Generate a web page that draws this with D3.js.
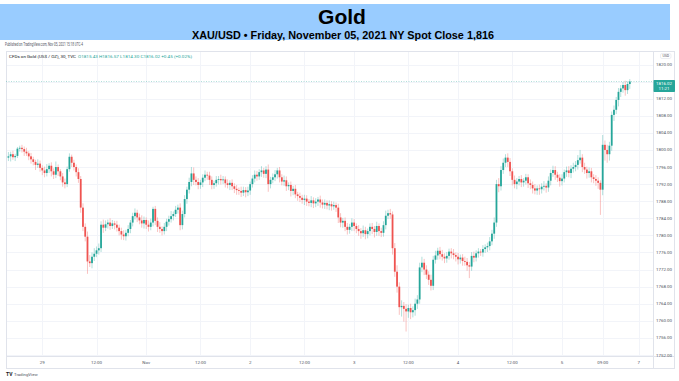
<!DOCTYPE html>
<html>
<head>
<meta charset="utf-8">
<script src="https://cdn.jsdelivr.net/npm/d3@7"></script>
<style>
  body { margin: 0; background: #fff; }
  svg { display: block; font-family: Roboto, "Noto Sans", sans-serif; }
</style>
</head>
<body>
<svg id="chart"></svg>
<script>
const width = 679;
const height = 381;

// 30 minute bars, Oct 28 15:30 -> Nov 05 15:00 (NY time, session gaps removed)
const firstOpen = 1798.2;
const closes = [
  1798.5, 1799.0, 1798.3, 1798.6, 1800.3, 1800.5, 1800.2, 1799.6, 1799.2, 1798.5,
  1797.8, 1797.2, 1796.5, 1796.8, 1795.8, 1795.2, 1794.6, 1795.5, 1796.3, 1795.0,
  1794.2, 1796.0, 1795.0, 1793.8, 1792.4, 1792.0, 1795.5, 1798.4, 1797.0, 1796.0,
  1794.8, 1793.2, 1786.5, 1782.0, 1779.7, 1773.9, 1773.5, 1775.0, 1775.7, 1776.5,
  1777.0, 1782.5, 1781.8, 1782.6, 1783.0, 1782.2, 1782.8, 1782.5, 1781.8, 1781.0,
  1780.2, 1779.8, 1780.6, 1781.5, 1783.0, 1784.5, 1785.3, 1784.2, 1783.5, 1782.8,
  1783.6, 1782.5, 1782.0, 1783.0, 1786.2, 1783.4, 1782.0, 1781.5, 1781.0, 1782.0,
  1783.2, 1783.8, 1784.5, 1785.0, 1786.0, 1786.5, 1782.4, 1785.0, 1788.5, 1790.7,
  1792.5, 1794.5, 1793.0, 1792.5, 1791.8, 1792.4, 1793.5, 1794.2, 1794.0, 1793.0,
  1791.8, 1792.2, 1793.0, 1793.2, 1792.9, 1793.1, 1792.2, 1791.8, 1792.3, 1791.5,
  1790.9, 1790.6, 1790.4, 1790.0, 1790.6, 1790.1, 1790.5, 1792.0, 1793.3, 1794.2,
  1793.8, 1794.8, 1795.2, 1794.4, 1795.4, 1792.0, 1793.0, 1793.6, 1794.3, 1795.2,
  1793.6, 1792.6, 1792.9, 1791.5, 1791.8, 1790.4, 1790.9, 1789.6, 1789.2, 1788.8,
  1788.3, 1788.6, 1787.9, 1787.6, 1788.2, 1787.5, 1787.9, 1788.4, 1787.7, 1787.2,
  1787.6, 1787.0, 1787.3, 1786.8, 1787.1, 1786.5, 1784.2, 1783.0, 1783.4, 1782.0,
  1781.3, 1782.0, 1783.0, 1782.2, 1781.5, 1781.0, 1780.5, 1781.2, 1780.3, 1781.0,
  1782.0, 1781.5, 1780.8, 1782.2, 1781.0, 1780.6, 1782.4, 1784.6, 1785.2, 1784.9,
  1777.0, 1771.5, 1768.0, 1763.2, 1763.5, 1762.8, 1762.2, 1763.0, 1762.0, 1762.5,
  1764.0, 1765.0, 1772.5, 1773.6, 1772.0, 1770.8, 1769.6, 1768.2, 1774.3, 1775.3,
  1776.4, 1775.6, 1775.0, 1774.6, 1775.2, 1776.2, 1775.8, 1775.4, 1775.0, 1774.4,
  1774.8, 1774.0, 1773.8, 1773.0, 1772.7, 1775.2, 1774.8, 1775.8, 1776.2, 1776.0,
  1776.8, 1777.2, 1777.5, 1778.6, 1780.4, 1783.0, 1792.0, 1791.5, 1795.3, 1797.0,
  1798.2, 1797.2, 1795.0, 1793.0, 1792.0, 1792.6, 1793.2, 1792.4, 1792.8, 1793.6,
  1792.2, 1791.8, 1791.0, 1790.5, 1791.0, 1790.8, 1791.4, 1791.6, 1791.2, 1792.8,
  1794.6, 1795.3, 1794.2, 1793.5, 1792.7, 1793.3, 1794.8, 1795.2, 1794.6, 1795.6,
  1796.0, 1796.5, 1797.6, 1798.2, 1796.0, 1795.4, 1794.6, 1795.0, 1793.6, 1793.2,
  1792.8, 1792.3, 1790.7, 1801.2, 1800.0, 1799.0, 1801.0, 1808.2, 1809.4, 1811.7,
  1813.6, 1814.4, 1815.2, 1814.0, 1815.43, 1816.02
];
// upper / lower shadow lengths (USD) beyond the body
const wickUp = [
  1.0,0.6,0.8,0.5,0.4,0.5,0.7,0.6,0.9,0.5, 0.8,0.6,0.5,1.0,0.7,0.6,0.9,1.2,0.6,0.8,
  0.7,1.3,0.6,0.5,0.8,0.9,0.6,0.8,0.5,0.7, 0.6,0.9,0.7,1.0,0.8,1.2,1.5,1.0,1.3,0.9,
  1.1,0.8,1.2,0.9,0.7,1.0,0.8,0.6,0.9,0.7, 0.8,1.0,0.7,0.9,0.6,0.8,1.0,0.7,0.9,1.2,
  0.8,0.6,1.0,0.9,0.5,0.7,0.8,1.1,0.6,0.9, 0.7,0.8,1.2,0.6,0.9,0.7,1.0,0.8,0.9,0.7,
  1.0,1.5,1.4,0.8,0.9,0.6,0.8,1.0,0.7,0.9, 0.8,0.6,0.9,0.7,1.0,0.8,0.7,0.9,0.6,0.8,
  0.7,0.9,0.6,1.0,0.8,0.7,0.9,0.6,0.8,1.0, 0.9,0.7,1.0,0.6,0.8,1.2,0.7,0.9,1.0,0.6,
  0.8,0.7,1.1,0.9,0.6,0.8,0.7,0.9,0.6,0.8, 0.7,0.9,0.8,0.6,1.0,0.7,0.8,0.6,0.9,0.7,
  0.8,0.6,0.9,0.7,0.8,0.6,0.9,1.0,0.7,0.8, 0.9,0.7,1.0,0.8,0.6,0.9,0.7,1.1,0.8,0.6,
  0.8,0.9,0.7,1.0,0.6,0.8,0.9,1.2,0.8,1.0, 0.7,1.2,1.5,1.0,1.3,0.9,1.1,0.8,1.0,0.9,
  1.2,1.0,1.1,1.4,0.9,1.0,0.8,1.2,0.9,1.1, 0.7,0.9,1.0,0.8,0.9,0.7,0.8,1.0,0.6,0.9,
  0.7,0.8,1.0,0.9,0.8,0.9,1.0,0.7,0.8,0.6, 0.9,0.7,0.8,1.0,0.9,1.2,1.0,1.4,0.9,1.0,
  0.8,1.0,0.9,0.7,1.0,0.8,0.7,0.9,0.6,0.8, 0.7,0.9,0.8,1.0,0.7,0.9,0.8,1.1,0.6,1.0,
  0.8,1.0,0.9,0.7,0.8,1.0,0.6,0.9,1.0,0.8, 1.0,0.9,1.2,1.8,0.8,1.0,0.7,0.9,0.8,0.7,
  0.9,0.8,0.6,2.3,1.0,1.2,0.9,0.8,1.0,0.7, 0.9,0.8,0.7,1.0,0.6,0.55
];
const wickDown = [
  0.8,1.2,0.6,0.9,0.5,0.7,0.8,1.0,0.6,0.9, 1.0,0.8,1.2,0.7,0.9,1.1,1.0,0.8,0.9,1.2,
  1.0,0.8,1.1,0.9,1.0,1.0,0.7,0.6,1.0,0.8, 1.0,0.9,1.2,1.0,1.1,2.9,0.9,1.2,1.0,0.8,
  1.0,0.9,1.2,0.8,1.0,0.9,0.7,1.1,0.9,1.0, 1.2,0.9,1.0,0.8,1.0,0.9,0.8,1.1,0.9,1.0,
  1.2,1.0,1.1,0.8,0.9,1.0,1.2,0.9,1.0,0.8, 1.0,0.9,0.8,1.0,0.7,0.9,1.2,1.0,0.8,1.1,
  0.9,1.0,1.2,0.8,1.0,0.9,1.1,0.8,1.0,1.2, 1.0,0.9,0.8,1.1,1.0,0.9,1.0,0.8,1.2,0.9,
  1.0,1.1,0.9,1.0,0.8,1.2,0.9,1.0,0.8,0.9, 1.0,0.8,1.1,0.9,1.0,1.8,1.0,0.8,0.9,1.0,
  1.2,0.9,1.0,1.1,0.9,1.3,1.0,0.9,1.1,1.0, 0.9,1.2,1.0,0.8,1.0,1.1,0.9,1.0,1.2,0.9,
  1.0,0.9,1.1,1.0,0.8,1.0,1.3,1.1,1.2,1.0, 1.1,0.9,1.0,1.2,1.0,1.1,1.3,0.9,1.2,1.0,
  1.0,1.2,1.3,0.9,1.1,1.0,0.9,1.0,0.8,1.0, 1.5,1.2,1.4,1.8,2.2,3.0,4.7,1.5,1.6,1.2,
  1.3,1.2,1.0,1.1,1.3,1.0,1.2,1.1,1.0,0.9, 1.0,1.2,0.9,1.1,1.0,0.9,1.2,1.0,1.1,1.2,
  1.0,1.1,0.9,1.3,2.7,1.0,1.1,0.9,1.0,0.8, 1.0,0.9,1.1,1.0,0.9,1.2,1.0,1.4,1.0,0.9,
  1.0,1.2,1.1,1.3,1.0,1.2,0.9,1.1,1.0,0.9, 1.1,1.0,1.2,0.9,1.0,1.3,1.0,0.9,1.2,1.0,
  1.1,0.9,1.2,1.0,1.3,1.0,0.9,1.1,1.0,1.2, 0.9,1.0,1.1,0.8,1.2,1.0,1.3,1.1,1.2,1.0,
  1.2,1.4,5.9,1.3,2.5,2.0,1.5,1.2,1.4,1.0, 1.5,1.2,1.0,1.3,0.9,1.13
];

// time axis: bar index of each label
const xTickBars = [15, 39, 61, 85, 107, 131, 153, 177, 199, 223, 245, 263, 279];
const xTickLabels = ["29", "12:00", "Nov", "12:00", "2", "12:00", "3", "12:00", "4", "12:00", "5", "09:00", "7"];
const priceTicks = d3.range(1752, 1821, 4);
const lastPrice = 1816.02;

const upColor = "#26a69a";
const downColor = "#ef5350";

const candles = closes.map((c, i) => {
  const o = i === 0 ? firstOpen : closes[i - 1];
  return {
    i: i,
    open: o,
    close: c,
    high: Math.max(o, c) + wickUp[i],
    low: Math.min(o, c) - wickDown[i]
  };
});

const svg = d3.select("#chart")
  .attr("width", width)
  .attr("height", height);

svg.append("rect").attr("width", width).attr("height", height).attr("fill", "#fff");

// Title band
svg.append("rect")
  .attr("x", 0).attr("y", 4)
  .attr("width", 670).attr("height", 36)
  .attr("fill", "#99ccff");

svg.append("text")
  .attr("x", 342).attr("y", 23.5)
  .attr("text-anchor", "middle")
  .attr("font-family", "'Liberation Sans', Arial, sans-serif")
  .attr("font-weight", "bold")
  .attr("font-size", 21)
  .attr("textLength", 48)
  .attr("lengthAdjust", "spacingAndGlyphs")
  .attr("fill", "#000")
  .text("Gold");

svg.append("text")
  .attr("x", 343).attr("y", 38.5)
  .attr("text-anchor", "middle")
  .attr("font-family", "'Liberation Sans', Arial, sans-serif")
  .attr("font-weight", "bold")
  .attr("font-size", 11.5)
  .attr("textLength", 302)
  .attr("lengthAdjust", "spacingAndGlyphs")
  .attr("fill", "#000")
  .text("XAU/USD \u2022 Friday, November 05, 2021 NY Spot Close 1,816");

svg.append("text")
  .attr("x", 5).attr("y", 46)
  .attr("font-size", 4.5)
  .attr("textLength", 78)
  .attr("lengthAdjust", "spacingAndGlyphs")
  .attr("fill", "#50535e")
  .text("Published on TradingView.com, Nov 05, 2021 15:18 UTC-4");

// Chart area
const plotLeft = 6, plotRight = 653, plotTop = 51, plotBottom = 356, frameRight = 674, frameBottom = 368;

const x = d3.scaleLinear().domain([15, 245]).range([42.3, 562]);
const y = d3.scaleLinear().domain([1752, 1820]).range([355, 64.5]);

const grid = svg.append("g");
grid.selectAll("line.h")
  .data(priceTicks)
  .enter().append("line")
  .attr("x1", plotLeft).attr("x2", plotRight)
  .attr("y1", d => Math.round(y(d)) + 0.5)
  .attr("y2", d => Math.round(y(d)) + 0.5)
  .attr("stroke", "#f2f4f9");
grid.selectAll("line.v")
  .data(xTickBars)
  .enter().append("line")
  .attr("x1", d => Math.round(x(d)) + 0.5)
  .attr("x2", d => Math.round(x(d)) + 0.5)
  .attr("y1", plotTop).attr("y2", plotBottom)
  .attr("stroke", "#f2f4f9");

// frame
svg.append("rect")
  .attr("x", plotLeft + 0.5).attr("y", plotTop + 0.5)
  .attr("width", frameRight - plotLeft).attr("height", frameBottom - plotTop)
  .attr("fill", "none")
  .attr("stroke", "#e0e3eb");
svg.append("line")
  .attr("x1", plotRight + 0.5).attr("x2", plotRight + 0.5)
  .attr("y1", plotTop).attr("y2", frameBottom)
  .attr("stroke", "#e0e3eb");
svg.append("line")
  .attr("x1", plotLeft).attr("x2", frameRight)
  .attr("y1", plotBottom + 0.5).attr("y2", plotBottom + 0.5)
  .attr("stroke", "#e0e3eb");

// Legend line
svg.append("text")
  .attr("x", 9).attr("y", 57.5)
  .attr("font-size", 4.3)
  .attr("textLength", 67)
  .attr("lengthAdjust", "spacingAndGlyphs")
  .attr("fill", "#131722")
  .text("CFDs on Gold (US$ / OZ), 30, TVC");
svg.append("text")
  .attr("x", 78).attr("y", 57.5)
  .attr("font-size", 4.3)
  .attr("textLength", 114)
  .attr("lengthAdjust", "spacingAndGlyphs")
  .attr("fill", upColor)
  .text("O1815.43  H1816.57  L1814.30  C1816.02  +0.45 (+0.02%)");

// Candles
const candleG = svg.append("g");
candleG.selectAll("line")
  .data(candles)
  .enter().append("line")
  .attr("x1", d => x(d.i)).attr("x2", d => x(d.i))
  .attr("y1", d => y(d.high)).attr("y2", d => y(d.low))
  .attr("stroke", d => d.close >= d.open ? upColor : downColor)
  .attr("stroke-opacity", 0.4)
  .attr("stroke-width", 0.9);

candleG.selectAll("rect")
  .data(candles)
  .enter().append("rect")
  .attr("x", d => x(d.i) - 0.9)
  .attr("width", 1.8)
  .attr("y", d => y(Math.max(d.open, d.close)))
  .attr("height", d => Math.max(0.8, Math.abs(y(d.open) - y(d.close))))
  .attr("fill", d => d.close >= d.open ? upColor : downColor);

// last price line
svg.append("line")
  .attr("x1", plotLeft).attr("x2", plotRight)
  .attr("y1", y(lastPrice)).attr("y2", y(lastPrice))
  .attr("stroke", upColor)
  .attr("stroke-opacity", 0.45)
  .attr("stroke-dasharray", "1,1.5")
  .attr("stroke-width", 0.8);

// price axis (the label under the last price tag is hidden, as on the chart)
svg.append("g")
  .selectAll("text")
  .data(priceTicks.filter(d => Math.abs(y(d) - y(lastPrice)) > 8))
  .enter().append("text")
  .attr("x", 664).attr("y", d => y(d) + 1.5)
  .attr("text-anchor", "middle")
  .attr("font-size", 4.4)
  .attr("fill", "#50535e")
  .text(d => d3.format(".2f")(d));

const tag = svg.append("g");
tag.append("rect")
  .attr("x", plotRight + 0.5).attr("y", 80)
  .attr("width", 21.5).attr("height", 12)
  .attr("rx", 0.8)
  .attr("fill", upColor);
tag.append("text")
  .attr("x", 664).attr("y", 85)
  .attr("text-anchor", "middle")
  .attr("font-size", 4.4)
  .attr("fill", "#fff")
  .text(d3.format(".2f")(lastPrice));
tag.append("text")
  .attr("x", 664).attr("y", 90.3)
  .attr("text-anchor", "middle")
  .attr("font-size", 4.4)
  .attr("fill", "#fff")
  .text("11:21");

svg.append("rect")
  .attr("x", 660.5).attr("y", 53.5)
  .attr("width", 10.5).attr("height", 5)
  .attr("rx", 1.5)
  .attr("fill", "#fff")
  .attr("stroke", "#e0e3eb")
  .attr("stroke-width", 0.6);
svg.append("text")
  .attr("x", 665.8).attr("y", 57.3)
  .attr("text-anchor", "middle")
  .attr("font-size", 3.6)
  .attr("fill", "#50535e")
  .text("USD");

// time axis labels
svg.append("g")
  .selectAll("text")
  .data(xTickBars)
  .enter().append("text")
  .attr("x", d => x(d))
  .attr("y", 363.5)
  .attr("text-anchor", "middle")
  .attr("font-size", 4.4)
  .attr("fill", "#50535e")
  .text((d, i) => xTickLabels[i]);

// TradingView mark
const logo = svg.append("g");
logo.append("text")
  .attr("x", 6).attr("y", 376)
  .attr("font-size", 5)
  .attr("font-weight", "bold")
  .attr("fill", "#131722")
  .text("TV");
logo.append("text")
  .attr("x", 14).attr("y", 376)
  .attr("font-size", 4.3)
  .attr("fill", "#50535e")
  .text("TradingView");
</script>
</body>
</html>
